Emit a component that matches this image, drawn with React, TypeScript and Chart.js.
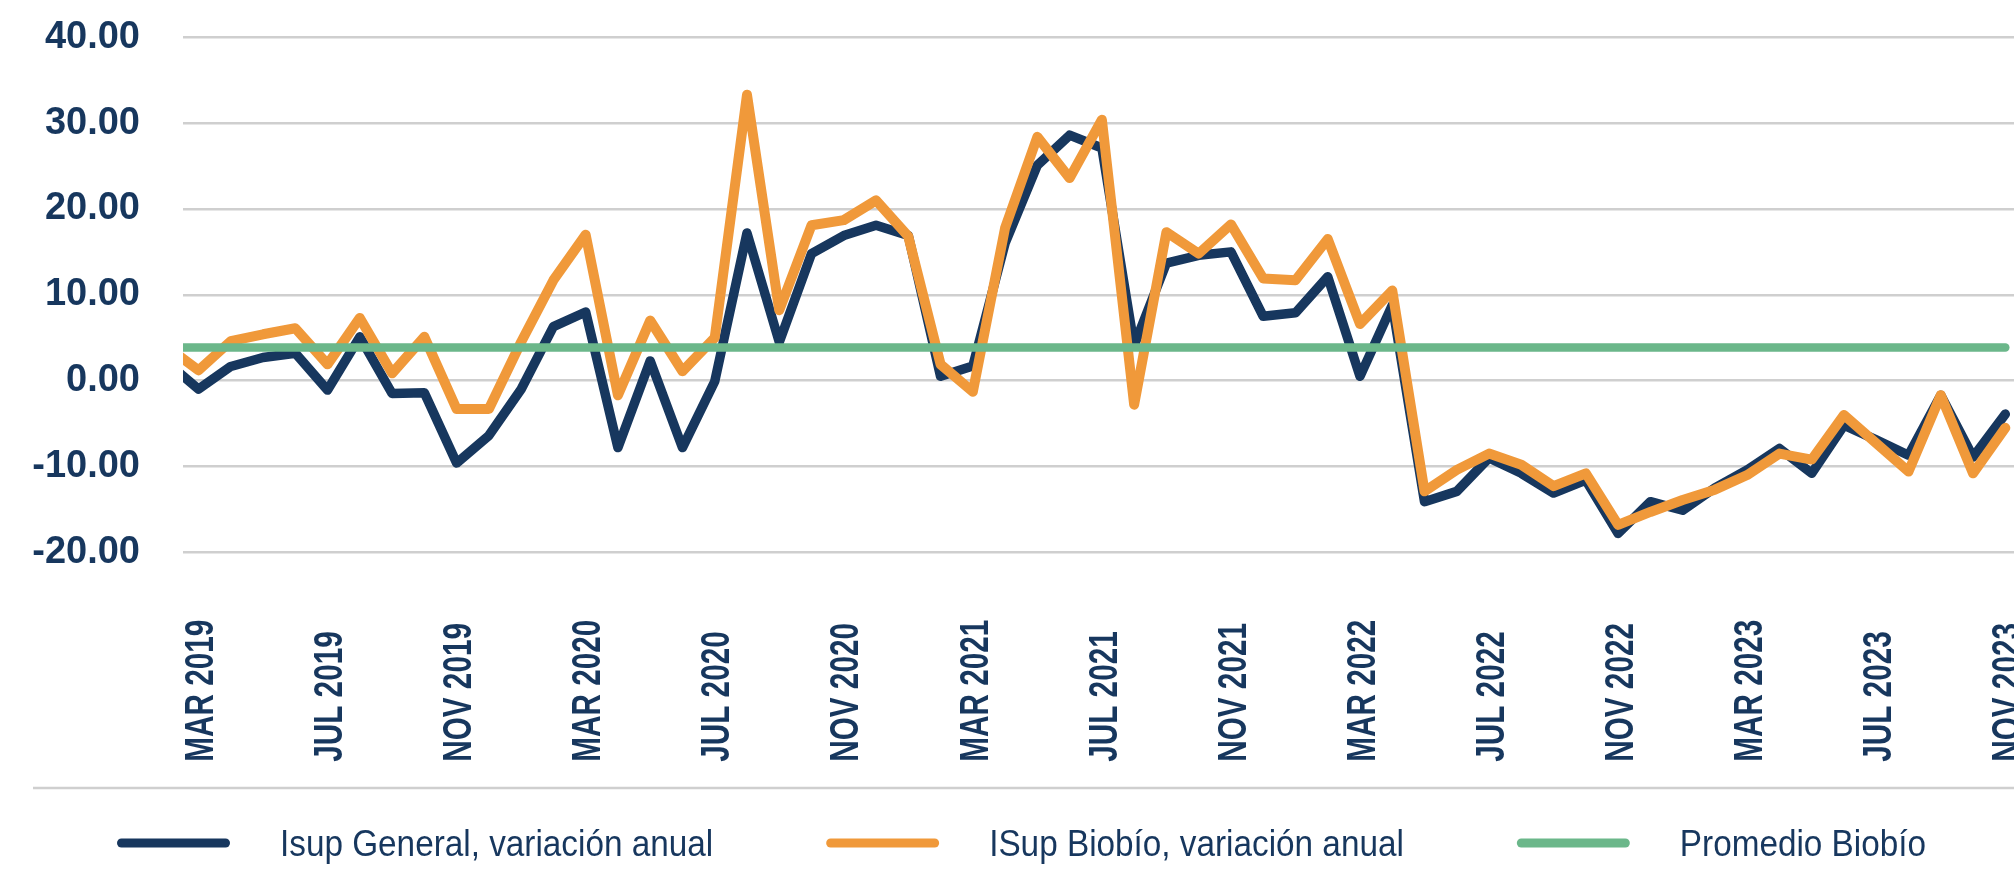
import React, { useEffect, useRef } from "react";
import { Chart, registerables } from "chart.js";

Chart.register(...registerables);

// ---- data ----
const categories = [
  "FEB 2019", "MAR 2019", "ABR 2019", "MAY 2019", "JUN 2019", "JUL 2019", "AGO 2019", "SEP 2019", "OCT 2019", "NOV 2019", "DIC 2019",
  "ENE 2020", "FEB 2020", "MAR 2020", "ABR 2020", "MAY 2020", "JUN 2020", "JUL 2020", "AGO 2020", "SEP 2020", "OCT 2020", "NOV 2020", "DIC 2020",
  "ENE 2021", "FEB 2021", "MAR 2021", "ABR 2021", "MAY 2021", "JUN 2021", "JUL 2021", "AGO 2021", "SEP 2021", "OCT 2021", "NOV 2021", "DIC 2021",
  "ENE 2022", "FEB 2022", "MAR 2022", "ABR 2022", "MAY 2022", "JUN 2022", "JUL 2022", "AGO 2022", "SEP 2022", "OCT 2022", "NOV 2022", "DIC 2022",
  "ENE 2023", "FEB 2023", "MAR 2023", "ABR 2023", "MAY 2023", "JUN 2023", "JUL 2023", "AGO 2023", "SEP 2023", "OCT 2023", "NOV 2023",
];

const tickLabels = [
  "MAR 2019", "JUL 2019", "NOV 2019", "MAR 2020", "JUL 2020", "NOV 2020", "MAR 2021", "JUL 2021",
  "NOV 2021", "MAR 2022", "JUL 2022", "NOV 2022", "MAR 2023", "JUL 2023", "NOV 2023",
];

const isupGeneral = [
  2.2, -1.0, 1.65, 2.7, 3.2, -1.1, 5.1, -1.5, -1.4, -9.6, -6.4,
  -1.0, 6.3, 8.0, -7.8, 2.3, -7.8, -0.1, 17.2, 4.5, 14.8, 16.9, 18.1,
  16.9, 0.5, 1.7, 16.0, 25.1, 28.6, 27.1, 4.1, 13.7, 14.6, 15.0, 7.5,
  7.9, 12.1, 0.5, 8.8, -14.1, -12.9, -9.0, -10.8, -13.1, -11.6, -17.8, -14.1,
  -15.1, -12.5, -10.4, -7.9, -10.8, -5.2, -6.9, -8.7, -1.7, -8.9, -3.9,
];

const isupBiobio = [
  4.0, 1.2, 4.6, 5.4, 6.1, 1.9, 7.3, 0.85, 5.1, -3.3, -3.3,
  4.5, 11.7, 17.0, -1.7, 7.0, 1.1, 5.0, 33.3, 8.2, 18.1, 18.7, 21.0,
  16.8, 1.9, -1.3, 17.8, 28.4, 23.6, 30.4, -2.8, 17.3, 14.8, 18.2, 11.9,
  11.7, 16.5, 6.6, 10.5, -12.9, -10.4, -8.5, -9.8, -12.3, -10.8, -16.8, -15.3,
  -13.9, -12.7, -11.0, -8.5, -9.2, -4.0, -7.3, -10.6, -1.7, -10.8, -5.5,
];

const promedioBiobio = 3.85;

const yTicks = { min: -20, max: 40, step: 10 };

// ---- styles ----
const NAVY = "#17375E";
const ORANGE = "#F0993A";
const GREEN = "#6BB78A";
const GRID = "#CFCFCF";
const FONT = "'Liberation Sans', Arial, Helvetica, sans-serif";

const W = 2014;
const H = 882;

const overlayPlugin = {
  id: "overlay",
  afterDraw(chart: any) {
    const ctx: CanvasRenderingContext2D = chart.ctx;
    const xs = chart.scales.x;
    const area = chart.chartArea;

    // x-axis labels (rotated, condensed)
    const xFont = 41;
    const capH = xFont * 0.716;
    const baseY = area.bottom + 209.5;
    ctx.save();
    ctx.fillStyle = NAVY;
    ctx.font = `bold ${xFont}px ${FONT}`;
    ctx.textAlign = "left";
    ctx.textBaseline = "alphabetic";
    tickLabels.forEach((lab) => {
      const idx = categories.indexOf(lab);
      const px = xs.getPixelForValue(idx);
      ctx.save();
      ctx.translate(px + capH / 2, baseY);
      ctx.rotate(-Math.PI / 2);
      ctx.scale(0.725, 1);
      ctx.fillText(lab, 0, 0);
      ctx.restore();
    });
    ctx.restore();

    // separator line
    ctx.save();
    ctx.strokeStyle = GRID;
    ctx.lineWidth = 2.5;
    ctx.beginPath();
    ctx.moveTo(33, 788);
    ctx.lineTo(W, 788);
    ctx.stroke();
    ctx.restore();

    // legend
    const legFont = 37;
    const legY = 843;
    const lineLen = 104;
    ctx.save();
    ctx.font = `${legFont}px ${FONT}`;
    ctx.textAlign = "left";
    ctx.textBaseline = "alphabetic";
    let x = 121.5;
    chart.data.datasets.forEach((ds: any) => {
      ctx.strokeStyle = ds.borderColor;
      ctx.lineWidth = 9;
      ctx.lineCap = "round";
      ctx.beginPath();
      ctx.moveTo(x, legY);
      ctx.lineTo(x + lineLen, legY);
      ctx.stroke();
      const tx = x + lineLen + 4.5 + 50;
      const tw = ctx.measureText(ds.label).width * 0.9;
      ctx.save();
      ctx.fillStyle = NAVY;
      ctx.translate(tx, legY + (legFont * 0.716) / 2);
      ctx.scale(0.9, 1);
      ctx.fillText(ds.label, 0, 0);
      ctx.restore();
      x = tx + tw + 113 + 4.5;
    });
    ctx.restore();
  },
};

export default function App() {
  const ref = useRef<HTMLCanvasElement>(null);

  useEffect(() => {
    document.body.style.margin = "0";
    const toPts = (arr: number[]) => arr.map((v, i) => ({ x: i, y: v }));
    const chart = new Chart(ref.current as HTMLCanvasElement, {
      type: "line",
      data: {
        datasets: [
          {
            label: "Isup General, variación anual",
            data: toPts(isupGeneral),
            borderColor: NAVY,
            backgroundColor: NAVY,
            borderWidth: 9.5,
            order: 2,
          },
          {
            label: "ISup Biobío, variación anual",
            data: toPts(isupBiobio),
            borderColor: ORANGE,
            backgroundColor: ORANGE,
            borderWidth: 10,
            order: 1,
          },
          {
            label: "Promedio Biobío",
            data: toPts(categories.map(() => promedioBiobio)),
            borderColor: GREEN,
            backgroundColor: GREEN,
            borderWidth: 8.5,
            order: 0,
          },
        ],
      },
      options: {
        animation: false,
        responsive: false,
        devicePixelRatio: 1,
        layout: { padding: { top: 37.3, right: 0, bottom: H - 552.3, left: 0 } },
        elements: {
          point: { radius: 0, hoverRadius: 0 },
          line: { tension: 0, borderCapStyle: "round", borderJoinStyle: "round", fill: false },
        },
        datasets: { line: { clip: 0 } } as any,
        plugins: {
          legend: { display: false },
          tooltip: { enabled: false },
        },
        scales: {
          x: {
            type: "linear",
            display: false,
            min: 0.52,
            max: 57.27,
          },
          y: {
            min: yTicks.min,
            max: yTicks.max,
            border: { display: false },
            grid: { color: GRID, lineWidth: 2.5, drawTicks: true, tickLength: 43, tickColor: "rgba(0,0,0,0)" },
            ticks: {
              stepSize: yTicks.step,
              padding: 0,
              color: NAVY,
              font: { family: FONT, size: 38, weight: "bold" },
              callback: (v: any) => Number(v).toFixed(2),
            },
            afterFit: (scale: any) => {
              scale.width = 183;
              scale.paddingTop = 0;
              scale.paddingBottom = 0;
            },
          },
        },
      },
      plugins: [overlayPlugin],
    });
    return () => chart.destroy();
  }, []);

  return (
    <div style={{ position: "absolute", left: 0, top: 0, width: W, height: H, background: "#fff" }}>
      <canvas ref={ref} width={W} height={H} style={{ display: "block", width: W, height: H }} />
    </div>
  );
}
